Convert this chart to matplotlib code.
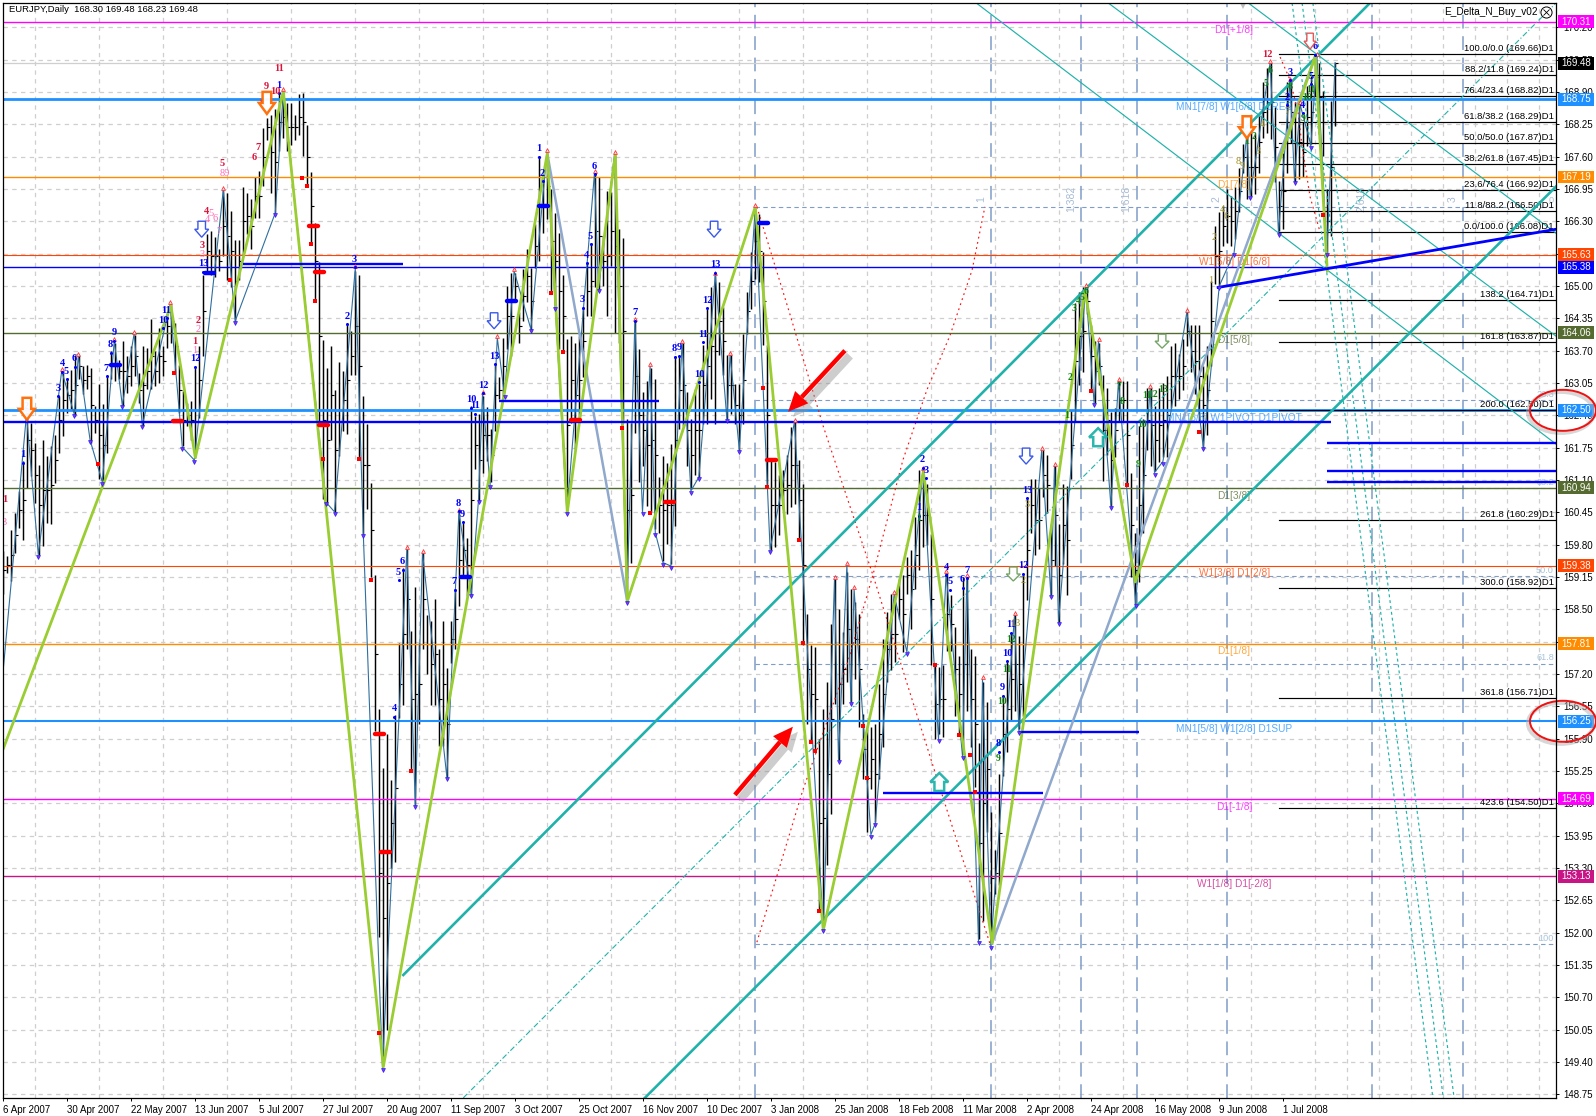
import numpy as np
import matplotlib
matplotlib.use("Agg")
import matplotlib.pyplot as plt
from matplotlib.patches import Polygon, Ellipse, Rectangle
from matplotlib.transforms import IdentityTransform

# ---------- data ----------
date_labels = ["6 Apr 2007","30 Apr 2007","22 May 2007","13 Jun 2007","5 Jul 2007","27 Jul 2007","20 Aug 2007",
               "11 Sep 2007","3 Oct 2007","25 Oct 2007","16 Nov 2007","10 Dec 2007","3 Jan 2008","25 Jan 2008",
               "18 Feb 2008","11 Mar 2008","2 Apr 2008","24 Apr 2008","16 May 2008","9 Jun 2008","1 Jul 2008"]
price_ticks = [148.75,149.40,150.05,150.70,151.35,152.00,152.65,153.30,153.95,154.60,155.25,155.90,156.55,157.20,
               157.85,158.50,159.15,159.80,160.45,161.10,161.75,162.40,163.05,163.70,164.35,165.00,165.65,166.30,
               166.95,167.60,168.25,168.90,169.55,170.20]

bar_high = [159.67,159.57,160.10,160.44,160.88,161.48,162.42,162.25,161.85,161.41,161.91,161.58,161.78,162.01,162.79,163.25,163.15,163.32,163.62,163.62,
 163.39,163.42,163.36,162.58,163.02,162.62,163.19,163.69,163.86,163.52,163.89,163.59,163.79,164.02,163.25,163.79,163.76,164.33,163.69,164.16,
 163.79,164.46,164.63,164.26,163.42,162.89,162.65,162.68,163.35,163.79,165.23,166.05,166.11,165.99,165.74,166.93,166.87,166.51,165.92,165.92,
 166.99,166.87,166.74,167.18,167.31,168.18,168.38,168.44,168.55,168.88,168.91,168.68,168.68,168.44,168.85,168.88,168.24,167.30,166.27,165.48,
 163.91,163.35,163.79,162.91,163.47,163.29,164.23,164.10,165.30,165.23,162.78,162.22,161.03,159.20,156.50,155.31,156.00,155.06,156.38,157.82,
 159.33,159.71,158.07,158.95,157.82,159.64,158.39,158.26,158.70,157.70,158.26,157.32,158.27,158.90,160.45,160.24,159.94,162.59,162.39,162.42,
 162.79,162.56,162.12,163.43,163.16,163.96,165.00,165.27,165.27,164.47,165.34,165.74,165.37,166.24,167.61,167.08,167.68,166.94,166.47,166.07,
 165.23,163.93,164.00,163.86,164.00,164.57,165.47,165.87,167.28,167.18,166.00,166.91,166.88,167.65,166.14,165.97,162.32,162.25,164.30,163.73,
 162.86,163.09,163.36,163.13,161.15,161.58,161.45,161.82,163.59,163.59,163.86,162.86,162.32,162.92,163.02,163.82,164.53,164.98,165.23,165.08,
 164.58,163.62,163.62,163.02,163.02,164.03,164.88,165.68,166.59,166.44,165.68,163.82,161.51,161.46,161.21,161.31,161.61,162.17,162.27,161.51,
 161.01,158.40,157.79,157.74,155.89,156.49,157.04,158.20,159.10,158.50,158.05,159.25,158.90,158.65,158.40,156.39,156.09,156.14,156.19,156.99,
 157.90,158.45,158.80,158.65,159.10,159.20,159.55,159.70,160.36,161.31,161.06,161.01,160.01,157.39,157.34,157.39,159.23,158.78,158.15,157.57,
 159.14,159.14,157.71,157.57,155.82,157.03,156.63,154.43,153.67,155.19,156.76,157.44,158.02,158.38,157.97,159.19,160.71,161.11,161.11,160.93,
 161.70,161.61,160.22,161.38,160.22,161.02,160.98,162.50,164.66,164.88,164.97,164.97,164.21,163.89,163.85,163.22,162.95,162.46,162.55,163.09,
 163.09,163.09,161.25,160.04,162.19,162.32,162.95,162.95,162.59,162.95,163.04,163.18,163.80,163.85,163.63,163.94,164.48,164.21,164.21,164.21,
 163.40,163.80,165.10,166.21,166.48,166.61,166.95,166.81,166.98,167.38,167.85,168.02,168.08,168.05,168.42,169.09,169.39,169.49,168.59,167.11,
 167.68,169.09,169.09,168.69,168.69,168.29,169.02,169.22,169.62,169.49,168.92,166.95,168.72,169.49]
bar_low = [158.80,159.23,159.07,159.64,160.14,159.90,160.94,161.18,160.64,159.60,159.77,160.24,160.21,161.04,161.65,161.98,162.45,162.52,162.38,163.12,
 162.82,162.92,161.85,162.05,161.11,161.04,161.65,163.12,163.09,163.12,162.58,162.85,162.99,163.19,162.65,162.18,162.92,162.92,162.99,163.05,
 163.19,163.76,163.86,163.25,162.45,161.78,162.18,161.91,161.55,162.35,163.60,165.30,165.23,165.17,165.30,165.61,165.11,164.98,164.29,165.11,
 165.61,166.05,165.74,166.36,166.36,167.00,167.94,166.87,166.47,167.71,167.98,167.71,167.84,167.94,168.04,167.61,167.00,165.83,164.69,162.22,
 160.71,160.59,161.90,160.46,161.59,162.09,162.03,163.22,163.22,161.53,160.02,160.52,159.14,156.06,151.92,149.41,150.04,153.30,153.43,156.32,
 156.57,157.70,155.25,154.56,156.19,157.70,157.19,156.57,156.57,155.75,155.75,155.12,157.43,157.70,158.57,159.17,158.77,158.77,161.32,160.68,
 161.25,161.48,161.05,162.09,162.72,162.79,163.73,163.59,164.73,163.86,164.30,164.67,164.10,165.37,165.50,166.07,166.34,164.87,164.57,163.73,
 163.66,160.45,162.25,161.72,162.25,163.16,164.40,164.40,164.97,164.93,164.99,164.40,165.40,164.06,163.86,162.25,158.70,159.44,162.05,161.05,
 161.38,160.58,160.45,160.11,160.04,159.47,159.81,159.41,160.18,162.12,162.19,161.38,160.91,161.21,161.16,162.22,162.22,162.72,162.22,163.62,
 163.22,162.32,162.42,162.22,161.71,162.22,164.03,164.53,165.13,165.08,163.82,160.96,159.70,159.75,160.00,160.51,160.41,160.56,160.61,159.90,
 157.79,156.19,155.83,155.63,152.42,152.07,153.37,154.38,156.59,155.48,156.59,157.04,156.64,157.09,156.14,155.08,154.03,154.88,154.23,155.08,
 155.73,157.04,157.29,157.44,158.30,157.64,158.80,158.10,158.90,159.30,159.75,159.80,157.39,155.89,155.99,155.94,157.66,157.66,156.36,156.00,
 155.60,156.45,155.73,154.92,151.87,152.23,154.03,151.79,152.77,152.95,155.15,155.64,156.27,156.45,156.09,156.36,158.69,160.04,159.59,159.72,
 160.76,160.44,158.78,159.37,158.24,159.41,158.78,161.11,162.28,163.00,163.27,164.43,162.91,162.64,163.00,161.07,161.61,160.58,161.56,162.28,
 162.28,161.02,159.14,158.60,159.05,160.04,161.70,161.38,161.29,161.47,161.56,161.56,162.55,162.59,162.73,162.91,163.80,163.27,162.82,162.28,
 161.76,162.00,163.40,165.04,165.00,165.81,165.87,165.81,165.94,166.48,167.28,166.74,166.81,166.84,167.28,167.98,168.08,167.95,167.08,166.11,
 166.14,167.28,167.88,167.08,167.15,167.18,167.82,167.85,168.82,168.08,167.61,165.67,166.00,168.22]
bar_close = [159.3,159.4,159.6,160.0,160.5,160.7,161.9,161.7,161.2,160.6,160.9,160.9,161.0,161.5,162.3,162.7,162.8,162.9,163.0,163.4,
 163.1,163.2,162.6,162.3,162.0,161.8,162.5,163.4,163.4,163.3,163.3,163.2,163.4,163.6,162.9,163.0,163.3,163.6,163.3,163.6,
 163.5,164.2,164.3,163.8,162.9,162.3,162.4,162.3,162.5,163.1,164.5,165.7,165.6,165.6,165.5,166.2,166.0,165.7,165.1,165.5,
 166.3,166.4,166.2,166.8,166.8,167.6,168.2,167.7,167.5,168.3,168.4,168.2,168.2,168.2,168.4,168.3,167.6,166.6,165.5,164.0,
 162.3,161.9,162.8,161.7,162.5,162.7,163.1,163.6,164.2,163.4,161.4,161.4,160.1,157.6,153.2,152.3,153.0,154.2,154.9,157.0,
 158.0,158.7,156.7,156.8,157.0,158.7,157.8,157.4,157.6,156.7,157.0,156.2,157.9,158.3,159.5,159.7,159.4,160.7,161.8,161.5,
 162.0,162.0,161.6,162.8,162.9,163.4,164.4,164.4,165.0,164.2,164.8,165.2,164.7,165.8,166.6,166.6,167.0,165.9,165.5,164.9,
 164.4,162.2,163.1,162.8,163.1,163.9,164.9,165.1,166.1,166.0,165.5,165.6,166.1,165.8,165.0,164.1,160.5,160.8,163.2,162.4,
 162.1,161.8,161.9,161.6,160.6,160.5,160.6,160.6,161.9,162.9,163.0,162.1,161.6,162.1,162.1,163.0,163.4,163.8,163.7,164.3,
 163.9,163.0,163.0,162.6,162.4,163.1,164.5,165.1,165.9,165.7,164.7,162.4,160.6,160.6,160.6,160.9,161.0,161.4,161.4,160.7,
 159.4,157.3,156.8,156.7,154.2,154.3,155.2,156.3,157.8,157.0,157.3,158.1,157.8,157.9,157.3,155.7,155.1,155.5,155.2,156.0,
 156.8,157.7,158.0,158.0,158.7,158.4,159.2,158.9,159.6,160.3,160.4,160.4,158.7,156.6,156.7,156.7,158.4,158.2,157.3,156.8,
 157.4,157.8,156.7,156.2,153.8,154.6,155.3,153.1,153.2,154.0,156.0,156.5,157.1,157.4,157.0,157.8,159.7,160.6,160.3,160.3,
 161.2,161.0,159.5,160.4,159.2,160.2,159.9,161.8,163.5,164.0,164.1,164.7,163.6,163.3,163.4,162.1,162.3,161.5,162.1,162.7,
 162.7,162.0,160.2,159.3,160.6,161.2,162.3,162.2,161.9,162.2,162.3,162.4,163.2,163.2,163.2,163.4,164.1,163.7,163.5,163.2,
 162.6,162.9,164.3,165.6,165.7,166.2,166.4,166.3,166.5,166.9,167.6,167.4,167.4,167.4,167.9,168.5,168.7,168.7,167.8,166.6,
 166.9,168.2,168.5,167.9,167.9,167.7,168.4,168.5,169.2,168.8,168.3,166.3,167.4,169.48]

level_vals = [170.31,168.75,167.19,165.63,165.38,164.06,162.50,160.94,159.38,157.81,156.25,154.69,153.13]
level_cols = ['#FF00FF','#1E90FF','#FF8C00','#FF4500','#0000FF','#556B2F','#1E90FF','#556B2F','#FF4500','#FF8C00','#1E90FF','#FF00FF','#C71585']
level_lw   = [1.0,2.0,1.0,0.8,1.0,1.0,2.0,1.0,0.8,1.0,1.5,1.0,1.0]
level_names = [(170.31,'D1[+1/8]','#FF00FF'),(168.75,'MN1[7/8] W1[6/8] D1RES','#1E90FF'),(167.19,'D1[7/8]','#FF8C00'),
               (165.63,'W1[5/8] D1[6/8]','#FF4500'),(164.06,'D1[5/8]','#556B2F'),(162.50,'MN1[6/8] W1PIVOT D1PIVOT','#1E90FF'),
               (160.94,'D1[3/8]','#556B2F'),(159.38,'W1[3/8] D1[2/8]','#FF4500'),(157.81,'D1[1/8]','#FF8C00'),
               (156.25,'MN1[5/8] W1[2/8] D1SUP','#1E90FF'),(154.69,'D1[-1/8]','#FF00FF'),(153.13,'W1[1/8] D1[-2/8]','#C71585')]
fib_vals = [169.66,169.24,168.82,168.29,167.87,167.45,166.92,166.50,166.08,164.71,163.87,162.50,160.29,158.92,156.71,154.50]
fib_text = ['100.0/0.0','88.2/11.8','76.4/23.4','61.8/38.2','50.0/50.0','38.2/61.8','23.6/76.4','11.8/88.2','0.0/100.0',
            '138.2','161.8','200.0','261.8','300.0','361.8','423.6']
retr_vals = [166.59,162.70,160.93,159.16,157.41,151.77]
retr_text = ['0','26.3','38.2','50.0','61.8','100']
time_vals = [188,247,269.5,283.4,306,342.2,365]
time_text = ['','1','1.382','1.618','2','2.618','3']

green_x = [0,41.9,48,70,95,136,141,153,156,188,205,230,247.2,270.4,283,328,331]
green_y = [155.7,164.6,161.55,168.92,149.3,167.66,160.45,167.63,158.66,166.59,152.05,161.26,151.79,164.9,159.05,169.62,165.3]
grey1_x, grey1_y = [136,156], [167.66,158.66]
grey2_x, grey2_y = [247.2,328], [151.79,169.62]

swing_x = [0,5.8,8.75,14.6,17.75,18.75,21.7,24.75,27.75,29.75,32.7,34.75,41.7,44.75,47.75,55,58,68,70,80.7,82.8,88,90,94.8,100.9,103,104.8,
 110.9,113.9,117,118.8,119.8,121.7,123.5,125.3,127.7,131.9,135.9,138,140.9,147.8,148.8,152.8,155.9,157.9,159.8,161.7,163,164.9,166.9,169.7,
 171.9,173.9,178,180.9,181.7,184,188,191.7,197.8,205,207.8,208.8,210.9,211.9,212.7,216.9,218,222.7,225.9,229.9,233.8,235.7,239.8,240.9,243.8,
 244.8,246.9,252.8,253.9,259.6,261.9,262.8,263.8,270.6,272.7,273.8,276.9,278.8,283.1,286.7,287.8,289.9,295.9,300,304,307.7,310.9,311.7,
 316.7,318.8,321.7,322.8,324.2,326.9,328.4,330.9,332.95]
swing_y = [157.3,162.42,159.6,163.29,162.42,163.6,161.9,161.06,163.9,162.6,164.04,162.2,164.63,161.76,161.5,166.93,164.3,166.47,168.91,160.65,
 160.46,165.36,160.02,149.28,159.71,154.56,159.64,155.12,160.45,158.8,160.7,162.82,161.0,163.96,162.8,165.3,164.13,167.7,164.57,160.45,167.28,
 164.93,167.65,158.67,164.3,160.45,163.39,160.04,159.44,159.37,163.86,160.88,161.16,165.23,162.32,163.62,161.71,166.59,159.7,162.27,152.07,
 159.1,155.48,159.4,156.64,158.9,153.97,154.2,158.8,157.64,161.31,155.89,159.23,155.55,159.14,151.83,157.1,151.74,158.38,156.05,161.7,158.78,
 161.38,158.24,164.97,162.64,163.89,160.58,163.09,158.6,162.95,161.25,161.47,164.48,161.76,165.0,165.67,168.05,166.81,169.49,166.07,169.12,
 167.11,168.65,167.82,169.62,165.67,169.49]

red_sq_x = [23.75,42.7,56.7,75.9,76.9,77.8,74.6,79.9,88.8,91.8,93.8,101.9,136.9,139.8,161.7,154.6,189.8,190.8,198.8,199.8,201.8,202.8,203.8,214.8,215.8,232.8,238.8,241.7,242.8,271.9,280.9,298.8,329.8]
red_sq_y = [161.43,163.25,165.11,167.0,165.85,164.69,167.17,161.53,161.53,159.08,149.98,155.25,164.85,163.68,160.43,162.15,162.94,160.95,159.89,157.82,155.83,155.65,152.44,156.16,155.1,157.39,155.97,155.57,154.83,162.89,161.0,162.07,166.42]

red_thick = [(43.5,162.29),(77.5,166.2),(79,165.29),(80,162.2),(94,156.0),(95.5,153.62),(143,162.3),(166.5,160.66),(192,161.5)]
blue_thick = [(28,163.41),(51.5,165.27),(127,164.7),(135,166.6),(115.5,159.14),(190,166.26)]
blue_h = [(60,100,165.45),(124,164,162.68),(220,260,154.8),(254,284,156.03),(0,332,162.26),(331,388.3,161.84),(331,388.3,161.28),(331,388.3,161.05)]
trend_x, trend_y = [303.7,388.2], [164.97,166.14]
chan_a_x, chan_a_y = [100,341.7], [151.15,170.69]
chan_b_x, chan_b_y = [160.4,388.2], [148.68,167.0]
median_x, median_y = [115,388.2], [148.68,170.69]
fan_x = [(243.2,388.2),(311.2,388.2),(276.2,388.2)]
fan_y = [(170.69,161.82),(170.69,166.06),(170.69,163.99)]
gann_top, gann_bot = [322.2,324.7,327.4], [357.4,360.0,362.7]
rise_x = [188.4,199.9,210.9,217.4,224.9,230.9,236.7,242.2,245.4]
rise_y = [151.81,154.87,157.38,159.19,161.5,162.91,164.01,165.32,166.59]
fall_x = [188.4,196.7,204.9,217.4,228.4,235.9,246.7]
fall_y = [166.59,164.42,162.2,159.19,156.38,154.47,151.77]
peak_x = [319.2,321.7,323.7,324.7,326.7,329.2]
peak_y = [169.6,169.14,168.48,167.8,166.79,166.08]

blue_labels = [(4.8,161.61,'1'),(5.8,162.58,'2'),(13.75,162.94,'3'),(14.75,163.44,'4'),(15.8,163.29,'5'),(17.8,163.54,'6'),(25.8,163.34,'7'),
 (26.8,163.82,'8'),(27.75,164.06,'9'),(40,164.31,'10'),(40.8,164.51,'11'),(47.9,163.54,'12'),(49.9,165.45,'13'),(68.9,169.03,'1'),(85.9,164.39,'2'),(87.8,165.54,'3'),
 (97.7,156.5,'4'),(98.8,159.24,'5'),(99.8,159.46,'6'),(112.8,159.05,'7'),(113.8,160.63,'8'),(114.8,160.41,'9'),(117,162.71,'10'),(118,162.59,'11'),(120,163.0,'12'),(122.8,163.59,'13'),
 (133.8,167.76,'1'),(134.8,167.26,'2'),(144.8,164.72,'3'),(145.9,165.62,'4'),(146.8,166.0,'5'),(147.8,167.41,'6'),(157.9,164.46,'7'),(167.8,163.74,'8'),(168.9,163.76,'9'),
 (174,163.22,'10'),(174.9,164.03,'11'),(175.9,164.71,'12'),(178,165.43,'13'),(228.8,160.54,'1'),(229.8,161.51,'2'),(230.7,161.29,'3'),(235.7,159.35,'4'),(236.7,159.05,'5'),
 (239.8,159.09,'6'),(240.9,159.28,'7'),(248.8,155.8,'8'),(249.8,156.92,'9'),(250.9,157.62,'10'),(251.9,158.19,'11'),(254.9,159.38,'12'),(255.9,160.89,'13'),
 (320.9,168.79,'2'),(321.7,169.3,'3'),(324.9,168.63,'4'),(326.9,169.22,'5'),(327.95,169.81,'6')]
red_labels = [(0.3,160.7,'1'),(47.75,163.89,'1'),(48.75,164.31,'2'),(49.6,165.81,'3'),(50.9,166.5,'4'),(54.8,167.46,'5'),(62.8,167.59,'6'),(63.8,167.79,'7'),
 (64.8,168.67,'8'),(65.7,169.01,'9'),(68,168.91,'10'),(68.9,169.38,'11'),(316,169.66,'12')]
pink_labels = [(0.3,160.24,'3'),(47.75,163.7,'1'),(48.75,164.12,'2'),(49.6,165.63,'3'),(50.9,166.33,'4'),(51.9,166.46,'5'),(52.9,166.35,'6'),(53.8,166.1,'7'),(55.4,167.26,'89')]
green_labels = [(265.9,162.39,'1'),(266.7,163.15,'2'),(267.7,164.55,'3'),(268.8,164.68,'4'),(269.8,164.76,'5'),(270.7,164.88,'6'),(278.8,162.97,'7'),(279.6,162.67,'8'),
 (283.8,161.41,'9'),(284.8,162.21,'10'),(285.9,162.79,'11'),(287.4,162.82,'12'),(289.9,162.91,'13'),(248.8,155.5,'9'),(249.8,156.65,'10'),(250.9,157.3,'11'),(251.9,157.9,'12'),
 (228.8,160.33,'1'),(310.9,167.9,'1'),(312.7,168.0,'2'),(315.8,169.06,'5'),(316.7,169.34,'6'),(321.7,169.0,'8'),(324.9,168.37,'9'),(326,168.79,'10'),(326.9,168.95,'11')]
olive_labels = [(252.9,158.22,'13'),(255.9,160.6,'3'),(254.9,159.08,'2'),(301.9,165.1,'1'),(302.7,165.98,'2'),(304.8,166.54,'4'),(305.8,166.4,'6'),(308.8,167.5,'8'),(309.8,167.4,'9'),
 (313.8,167.7,'3'),(314.8,168.25,'4'),(320.9,168.5,'7')]

hollow_arrows = [(5.9,162.53,-1,'#FF6A00',1.8,16,22),(65.9,168.68,-1,'#FF6A00',1.8,16,22),(310.9,168.19,-1,'#FF6A00',1.8,16,22),(326.7,169.92,-1,'#E05050',1,12,16),
 (49.6,166.14,-1,'#3050E8',1,14,16),(122.7,164.3,-1,'#3050E8',1,14,16),(177.7,166.14,-1,'#3050E8',1,14,16),(255.7,161.58,-1,'#3050E8',1,14,16),
 (234,155.03,1,'#20B2AA',1.8,18,18),(273.7,161.96,1,'#20B2AA',1.8,18,18),(252.5,159.21,-1,'#70A060',1,14,14),(289.7,163.89,-1,'#70A060',1,14,14)]
red_arrows = [((210.4,163.7),(196.2,162.47)),((182.9,154.77),(197.4,156.14))]
tag_vals = [170.31,169.48,168.75,167.19,165.63,165.38,164.06,162.50,160.94,159.38,157.81,156.25,154.69,153.13]
tag_cols = ['#FF00FF','#000000','#1E90FF','#FF8C00','#FF4500','#0000FF','#556B2F','#1E90FF','#556B2F','#FF4500','#FF8C00','#1E90FF','#FF00FF','#C71585']
oval_vals = [162.50,156.25]

# ---------- figure ----------
SANS = 'Liberation Sans'; SERIF = 'Liberation Serif'
W, H = 1596, 1116
fig = plt.figure(figsize=(W/100, H/100), dpi=100, facecolor='white')
L, R, T, B = 3.0, 1556.0, 3.0, 1098.0
ax = fig.add_axes([L/W, (H-B)/H, (R-L)/W, (B-T)/H], facecolor='white')
YPX = 49.75
ax.set_xlim((L-3.3)/4, (R-3.3)/4)
ax.set_ylim(152+(932.7-B)/YPX, 152+(932.7-T)/YPX)

def disp(x, y):
    return ax.transData.transform((x, y))

ax.yaxis.tick_right()
ax.set_yticks(price_ticks, [f'{v:.2f}' for v in price_ticks], fontfamily=SANS, fontsize=7)
ax.set_xticks(np.arange(len(date_labels))*16, date_labels, fontfamily=SANS, fontsize=7, ha='left')
ax.set_xticks(np.arange(0, 389, 8), minor=True)
ax.tick_params(axis='y', length=2.5, width=0.7, pad=2.5, colors='black')
ax.tick_params(axis='x', which='major', length=2.5, width=0.7, pad=2.5, colors='black')
ax.tick_params(axis='x', which='minor', length=0)
ax.grid(True, which='major', axis='y', color='#CFCFCF', lw=0.9, ls=(0, (3.5, 3.5)), zorder=0)
ax.grid(True, which='minor', axis='x', color='#CFCFCF', lw=0.9, ls=(0, (3.5, 3.5)), zorder=0)
ax.set_axisbelow(True)
for s in ax.spines.values():
    s.set_linewidth(0.9); s.set_color('black'); s.set_zorder(20)

# vertical Fibonacci time lines + retrace grid
for t, s in zip(time_vals, time_text):
    ax.axvline(t, color='#7F9DC8', lw=1.1, ls=(0, (9, 5)), zorder=1)
    if s:
        ax.annotate(s, (t, 166.75), xytext=(-4, 0), textcoords='offset points', rotation=90, ha='right', va='center',
                    color='#A8BCD6', fontfamily=SANS, fontsize=7.5, zorder=1)
for v, s in zip(retr_vals, retr_text):
    ax.plot([188, 388.3], [v, v], color='#7F9DC8', lw=0.8, ls=(0, (4, 3)), zorder=1)
    ax.annotate(s, (388, v), xytext=(-1, 1), textcoords='offset points', ha='right', va='bottom', color='#A8C4DC',
                fontfamily=SANS, fontsize=6.6, zorder=2)

ax.axhline(169.48, color='#CFCFCF', lw=0.9, zorder=1)

# price bars
idx = np.arange(len(bar_high))
ax.vlines(idx, bar_low, bar_high, color='black', lw=1.05, zorder=3)
ax.hlines(bar_close, idx, idx+0.55, color='black', lw=0.8, zorder=3)

# Murrey levels
for v, c, w_ in zip(level_vals, level_cols, level_lw):
    ax.axhline(v, color=c, lw=w_, zorder=4)
for v, s, c in level_names:
    ax.annotate(s, (307.7, v), xytext=(0, -2), textcoords='offset points', ha='center', va='top', color=c, alpha=0.75,
                fontfamily=SANS, fontsize=7.3, zorder=5)

# Fibonacci expansion
for v, s in zip(fib_vals, fib_text):
    ax.plot([319, 388.3], [v, v], color='black', lw=0.85, zorder=4)
    ax.annotate(f'{s} ({v:.2f})D1', (388, v), xytext=(-1, 1), textcoords='offset points', ha='right', va='bottom',
                color='black', fontfamily=SANS, fontsize=6.8, zorder=5)

# channels and fan
ax.plot(median_x, median_y, color='#20B2AA', lw=0.8, ls=(0, (5, 2, 1, 2)), zorder=4)
for xs, ys in zip(fan_x, fan_y):
    ax.plot(xs, ys, color='#20B2AA', lw=0.85, zorder=4)
ax.plot(chan_a_x, chan_a_y, color='#20B2AA', lw=1.9, zorder=5)
ax.plot(chan_b_x, chan_b_y, color='#20B2AA', lw=1.9, zorder=5)
ylim = ax.get_ylim()
for a, b in zip(gann_top, gann_bot):
    ax.plot([a, b], [ylim[1], ylim[0]], color='#20B2AA', lw=0.85, ls=(0, (2.5, 2.5)), zorder=4)

# dotted arcs
for xs, ys in ((rise_x, rise_y), (fall_x, fall_y), (peak_x, peak_y)):
    ax.plot(xs, ys, color='#FF1010', lw=0.85, ls=(0, (1.5, 3)), zorder=4)

# zigzags
ax.plot(swing_x, swing_y, color='#2F6F9F', lw=0.8, zorder=5)
ax.plot(grey1_x, grey1_y, color='#8FA8CC', lw=1.8, zorder=5)
ax.plot(grey2_x, grey2_y, color='#8FA8CC', lw=1.8, zorder=5)
ax.plot(green_x, green_y, color='#9ACD32', lw=2.0, zorder=6)

# blue and red markers
for a, b, v in blue_h:
    ax.plot([a, b], [v, v], color='#0000FF', lw=1.7, zorder=6, solid_capstyle='butt')
ax.plot(trend_x, trend_y, color='#0000FF', lw=2.0, zorder=6)
for c, v in red_thick:
    ax.plot([c-1.1, c+1.1], [v, v], color='#FF0000', lw=3.2, solid_capstyle='round', zorder=7)
for c, v in blue_thick:
    ax.plot([c-1.1, c+1.1], [v, v], color='#0000FF', lw=3.2, solid_capstyle='round', zorder=7)
ax.plot(red_sq_x, red_sq_y, 's', color='#FF0000', ms=2.2, mew=0, zorder=7)

sx, sy = np.array(swing_x), np.array(swing_y)
for k in range(1, len(sx)-1):
    if sy[k] > sy[k-1] and sy[k] > sy[k+1]:
        ax.plot(sx[k], sy[k]+0.04, marker='^', color='#FF2020', mfc='#FFD0D8', ms=2.8, mew=0.5, zorder=8)
    else:
        ax.plot(sx[k], sy[k]-0.04, marker='v', color='#2020FF', mfc='#9030E0', ms=2.8, mew=0.5, zorder=8)

for group, col, fam, wgt, fs in ((blue_labels, '#0000FF', SERIF, 'bold', 7.5), (red_labels, '#DC143C', SERIF, 'bold', 7.5),
                                 (pink_labels, '#FF69B4', SERIF, 'normal', 7.5), (green_labels, '#108010', SERIF, 'bold', 7),
                                 (olive_labels, '#A09020', SERIF, 'normal', 7.5)):
    for x_, y_, s in group:
        ax.text(x_, y_, s, color=col, fontfamily=fam, fontweight=wgt, fontsize=fs, ha='center', va='center', zorder=9, clip_on=True)
for x_, y_, s in blue_labels:
    ax.plot(x_, y_-0.16, 'o', color='#0000FF', ms=2.2, mew=0, zorder=8)

# hollow signal arrows
idt = IdentityTransform()
for x_, y_, d, col, lw_, w_, h_ in hollow_arrows:
    cx, cy = disp(x_, y_)
    pts = np.array([(-w_*0.27, -h_/2), (w_*0.27, -h_/2), (w_*0.27, 0), (w_/2, 0), (0, h_/2), (-w_/2, 0), (-w_*0.27, 0)], float)
    pts[:, 1] *= d
    ax.add_patch(Polygon(pts+[cx, cy], closed=True, fc='white', ec=col, lw=lw_, transform=idt, zorder=10, alpha=0.95))

# red hand-drawn arrows with a soft shadow
for tail, head in red_arrows:
    tx, ty = disp(*tail); hx, hy = disp(*head)
    for off, col, alpha, lw_ in ((5, '#909090', 0.45, 6), (0, '#FF0000', 1, 3.2)):
        v = np.array([hx-tx, hy-ty]); n = v/np.hypot(*v); p_ = np.array([-n[1], n[0]])
        base = np.array([hx, hy]) - n*20
        ax.plot([tx+off, base[0]+off], [ty-off, base[1]-off], color=col, alpha=alpha, lw=lw_, transform=idt, zorder=11, solid_capstyle='butt')
        ax.add_patch(Polygon([np.array([hx+off, hy-off]), base+p_*9+[off, -off], base-p_*9+[off, -off]], fc=col, ec='none', alpha=alpha, transform=idt, zorder=11))

# price tags on the right
trans = ax.get_yaxis_transform()
tw = 36/(R-L); tx0 = 1+2/(R-L)
for v, c in zip(tag_vals, tag_cols):
    ax.add_patch(Rectangle((tx0, v-0.13), tw, 0.26, transform=trans, fc=c, ec='none', clip_on=False, zorder=12))
    ax.text(tx0+tw/2, v, f'{v:.2f}', transform=trans, color='white', ha='center', va='center', fontfamily=SANS, fontsize=7,
            clip_on=False, zorder=13)

# red ovals
for v in oval_vals:
    cx, cy = disp(388, v)
    cx = 1563
    ax.add_patch(Ellipse((cx-2, cy-2), 66, 41, fc='none', ec='#B0B0B0', lw=3, alpha=0.5, transform=idt, clip_on=False, zorder=13))
    ax.add_patch(Ellipse((cx, cy), 66, 41, fc='none', ec='#F01010', lw=1.4, transform=idt, clip_on=False, zorder=14))

# headers
ax.text(6/(R-L), 1-7/(B-T), 'EURJPY,Daily  168.30 169.48 168.23 169.48', transform=ax.transAxes, fontfamily=SANS, fontsize=6.8, va='center', zorder=15)
ax.text(1-(R-1538)/(R-L), 1-9/(B-T), 'E_Delta_N_Buy_v02', transform=ax.transAxes, fontfamily=SANS, fontsize=7.2, ha='right', va='center', zorder=15)
ax.plot([1-(R-1546)/(R-L)], [1-9/(B-T)], 'o', mfc='white', mec='black', ms=8, mew=0.7, transform=ax.transAxes, zorder=15)
ax.plot([1-(R-1546)/(R-L)], [1-9/(B-T)], 'x', color='black', ms=4.5, mew=0.6, transform=ax.transAxes, zorder=16)
ax.plot([(1243-L)/(R-L)], [1-2/(B-T)], 'v', color='#BEBEBE', ms=6, mew=0, transform=ax.transAxes, clip_on=True, zorder=2)

assert len(bar_high) == len(bar_low) == len(bar_close), (len(bar_high), len(bar_low), len(bar_close))
fig.savefig('out.png', dpi=100, facecolor='white')
